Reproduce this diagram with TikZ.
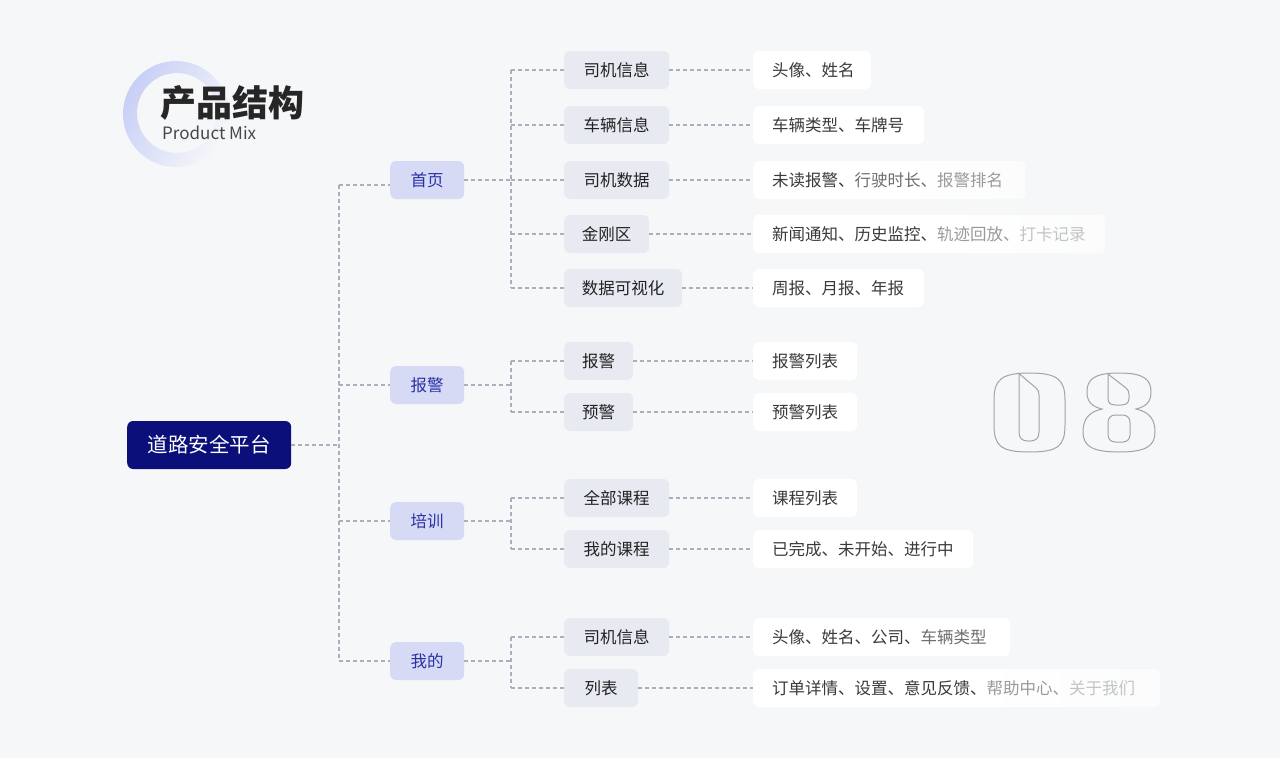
\documentclass[tikz,border=0pt]{standalone}
\usepackage{fontspec}
\setmainfont{Noto Sans CJK SC}
\usetikzlibrary{positioning}
\definecolor{bgc}{HTML}{F6F7F9}
\definecolor{rootc}{HTML}{0B0F7A}
\definecolor{onec}{HTML}{D6DAF4}
\definecolor{onet}{HTML}{2A30A8}
\definecolor{twoc}{HTML}{E7EAF1}
\definecolor{twot}{HTML}{222222}
\definecolor{leaft}{HTML}{3A3A3A}
\definecolor{ta}{HTML}{6E6E6E}
\definecolor{tb}{HTML}{9A9A9A}
\definecolor{tc}{HTML}{C4C4C4}
\definecolor{connc}{HTML}{ADADBD}
\definecolor{ringc}{HTML}{C8CFF6}
\definecolor{digc}{HTML}{9FA3AB}
\pgfdeclarehorizontalshading{leaffade}{100bp}{color(0bp)=(white); color(25bp)=(white); color(52bp)=(white); color(75bp)=(bgc!40!white); color(100bp)=(bgc!40!white)}
\tikzset{
  conn/.style={draw=connc, line width=1.1pt, dash pattern=on 4pt off 3pt},
  rootbox/.style={fill=rootc, text=white, rounded corners=6pt, minimum width=164pt, minimum height=48pt, inner sep=0pt, anchor=west, font=\fontsize{20.5}{20.5}\selectfont, text height=15pt, text depth=0pt},
  onebox/.style={fill=onec, text=onet, rounded corners=6pt, minimum width=74pt, minimum height=38pt, inner sep=0pt, anchor=west, font=\fontsize{16.5}{16.5}\selectfont, text height=12pt, text depth=0pt},
  twobox/.style={fill=twoc, text=twot, rounded corners=6pt, minimum height=38pt, inner sep=0pt, anchor=west, font=\fontsize{16.5}{16.5}\selectfont, text height=12pt, text depth=0pt},
  leafbox/.style={fill=white, text=leaft, rounded corners=6pt, minimum height=38pt, inner ysep=0pt, inner xsep=19pt, anchor=west, font=\fontsize{16.5}{16.5}\selectfont, text height=12pt, text depth=0pt},
  leaffaded/.style={leafbox, shade, shading=leaffade},
  digit/.style={draw=digc, line width=1pt}
}
\begin{document}
\begin{tikzpicture}[x=1pt,y=-1pt]
\fill[bgc] (0,0) rectangle (1280,758);
\useasboundingbox (0,0) rectangle (1280,758);
% ring
\shade[even odd rule, left color=ringc, right color=bgc, shading angle=60] (176,114) circle (53) (177,113) circle (40);
\node[anchor=west, inner sep=0pt, font=\fontsize{36}{36}\selectfont\bfseries, text=black!85] (title) at (160,103) {产品结构};
\node[anchor=base west, inner sep=0pt, font=\fontsize{17}{17}\selectfont, text=black!72] (sub) at (162,139) {Product Mix};
% root
\node[rootbox] (root) at (127,445) {道路安全平台};
% level 1
\node[onebox] (home) at (390,180) {首页};
\node[onebox] (alarm) at (390,385) {报警};
\node[onebox] (train) at (390,521) {培训};
\node[onebox] (mine) at (390,661) {我的};
% level 2
\node[twobox, minimum width=105pt] (s11) at (564,70) {司机信息};
\node[twobox, minimum width=105pt] (s12) at (564,125) {车辆信息};
\node[twobox, minimum width=105pt] (s13) at (564,180) {司机数据};
\node[twobox, minimum width=85pt] (s14) at (564,234) {金刚区};
\node[twobox, minimum width=118pt] (s15) at (564,288) {数据可视化};
\node[twobox, minimum width=69pt] (s21) at (564,361) {报警};
\node[twobox, minimum width=69pt] (s22) at (564,412) {预警};
\node[twobox, minimum width=105pt] (s31) at (564,498) {全部课程};
\node[twobox, minimum width=105pt] (s32) at (564,549) {我的课程};
\node[twobox, minimum width=105pt] (s41) at (564,637) {司机信息};
\node[twobox, minimum width=74pt] (s42) at (564,688) {列表};
% leaves
\node[leafbox] (c11) at (753,70) {\makebox[80pt][l]{头像、姓名}};
\node[leafbox] (c12) at (753,125) {\makebox[133pt][l]{车辆类型、车牌号}};
\node[leaffaded] (c13) at (753,180) {\makebox[234pt][l]{未读报警、{\color{ta}行驶时长、}{\color{tb}报警排名}}};
\node[leaffaded] (c14) at (753,234) {\makebox[314pt][l]{新闻通知、历史监控、{\color{tb}轨迹回放、}{\color{tc}打卡记录}}};
\node[leafbox] (c15) at (753,288) {\makebox[133pt][l]{周报、月报、年报}};
\node[leafbox] (c21) at (753,361) {\makebox[66pt][l]{报警列表}};
\node[leafbox] (c22) at (753,412) {\makebox[66pt][l]{预警列表}};
\node[leafbox] (c31) at (753,498) {\makebox[66pt][l]{课程列表}};
\node[leafbox] (c32) at (753,549) {\makebox[182pt][l]{已完成、未开始、进行中}};
\node[leafbox] (c41) at (753,637) {\makebox[219pt][l]{头像、姓名、公司、{\color{ta}车辆类型}}};
\node[leaffaded] (c42) at (753,688) {\makebox[369pt][l]{订单详情、设置、意见反馈、{\color{tb}帮助中心、}{\color{tc}关于我们}}};
% trunk coordinates
\coordinate (tr) at (339,445);
\coordinate (tA) at (511,180);
\coordinate (tB) at (511,385);
\coordinate (tC) at (511,521);
\coordinate (tD) at (511,661);
% root trunk
\draw[conn] (root.east) -- (tr);
\draw[conn] (tr |- 0,185) -- (tr |- mine.west);
\draw[conn] (tr |- 0,185) -- (home.west |- 0,185);
\draw[conn] (tr |- alarm.west) -- (alarm.west);
\draw[conn] (tr |- train.west) -- (train.west);
\draw[conn] (tr |- mine.west) -- (mine.west);
% level-1 to sub-trunks
\draw[conn] (home.east) -- (tA);
\draw[conn] (alarm.east) -- (tB);
\draw[conn] (train.east) -- (tC);
\draw[conn] (mine.east) -- (tD);
\draw[conn] (tA |- s11.west) -- (tA |- s15.west);
\draw[conn] (tB |- s21.west) -- (tB |- s22.west);
\draw[conn] (tC |- s31.west) -- (tC |- s32.west);
\draw[conn] (tD |- s41.west) -- (tD |- s42.west);
\foreach \s/\t in {s11/tA,s12/tA,s13/tA,s14/tA,s15/tA,s21/tB,s22/tB,s31/tC,s32/tC,s41/tD,s42/tD}
  \draw[conn] (\t |- \s.west) -- (\s.west);
% level-2 to leaves
\foreach \s/\c in {s11/c11,s12/c12,s13/c13,s14/c14,s15/c15,s21/c21,s22/c22,s31/c31,s32/c32,s41/c41,s42/c42}
  \draw[conn] (\s.east) -- (\c.west);
% digit 0
\draw[digit] (1029.5,373) .. controls (1058,373) and (1065,380) .. (1065,400) -- (1065,425) .. controls (1065,446) and (1058,452) .. (1029.5,452) .. controls (1001,452) and (994,446) .. (994,425) -- (994,400) .. controls (994,380) and (1001,373) .. (1029.5,373) -- cycle;
\draw[digit] (1019,373.5) -- (1036,388) .. controls (1038.5,390) and (1039,392) .. (1039,395) -- (1039,432) .. controls (1039,438) and (1036,441) .. (1030,441) -- (1028,441) .. controls (1022,441) and (1019,438) .. (1019,432) -- cycle;
% digit 8
\draw[digit] (1119,373) .. controls (1145,373) and (1151,380) .. (1151,392) .. controls (1151,402) and (1146,406.5) .. (1136,409) .. controls (1150,412) and (1155,420) .. (1155,432) .. controls (1155,446) and (1146,452) .. (1119,452) .. controls (1092,452) and (1083,446) .. (1083,432) .. controls (1083,420) and (1088,412) .. (1102,409) .. controls (1092,406.5) and (1087,402) .. (1087,392) .. controls (1087,380) and (1093,373) .. (1119,373) -- cycle;
\draw[digit] (1108,374) -- (1126,388) .. controls (1128.5,390) and (1129,392) .. (1129,395) -- (1129,398) .. controls (1129,403) and (1126,405) .. (1121,405) -- (1116,405) .. controls (1110,405) and (1108,403) .. (1108,398) -- cycle;
\draw[digit, rounded corners=7pt] (1108,415) rectangle (1130,442);
\end{tikzpicture}
\end{document}
